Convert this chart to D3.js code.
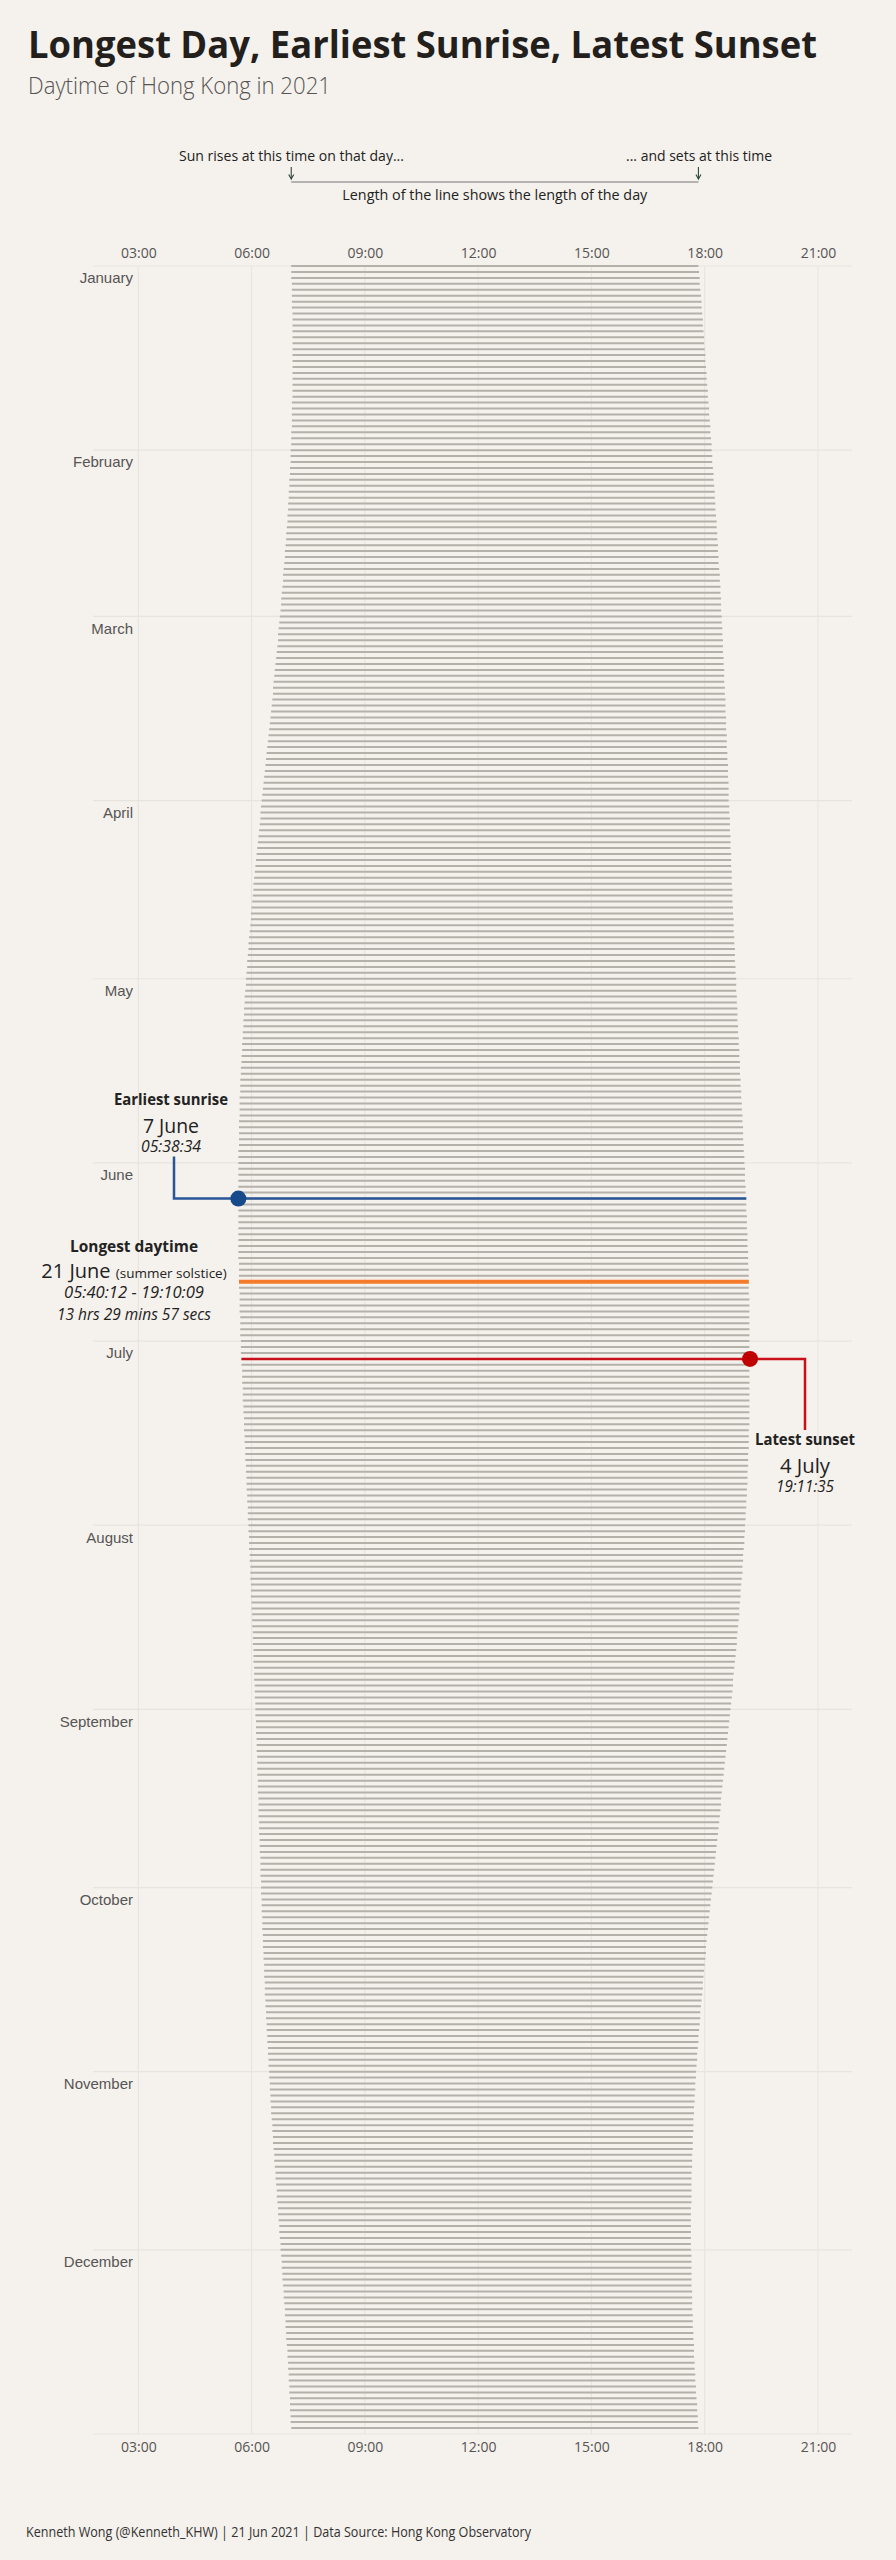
<!DOCTYPE html>
<html>
<head>
<meta charset="utf-8">
<script src="https://cdn.jsdelivr.net/npm/d3@7"></script>
<style>
  body { margin: 0; background: #f5f1ec; }
  svg { display: block; }
</style>
</head>
<body>
<svg id="drawing_region"></svg>
<script>
// Hong Kong 2021, sunrise / sunset in minutes after midnight, one array per month
const monthNames = ["January","February","March","April","May","June","July","August","September","October","November","December"];
const hourTicks = [3, 6, 9, 12, 15, 18, 21];
const hourLabels = ["03:00","06:00","09:00","12:00","15:00","18:00","21:00"];

const sunriseMin = [
  [423,423,423,424,424,424,424,424,425,425,425,425,425,425,425,425,425,425,425,425,425,425,425,424,424,424,424,424,423,423,423],
  [422,422,422,421,421,420,420,419,419,418,418,417,417,416,415,415,414,413,413,412,411,410,410,409,408,407,407,406],
  [405,404,403,402,402,401,400,399,398,397,396,395,394,394,393,392,391,390,389,388,387,386,385,384,383,382,381,380,379,378,377],
  [376,375,374,374,373,372,371,370,369,368,367,366,365,364,363,363,362,361,360,359,359,358,357,356,355,355,354,353,353,352],
  [351,351,350,349,349,348,348,347,347,346,346,345,345,344,344,343,343,342,342,342,341,341,341,341,340,340,340,340,340,339,339],
  [339,339,339,339,339,339,339,339,339,339,339,339,339,339,339,339,339,340,340,340,340,340,341,341,341,341,342,342,342,342],
  [343,343,343,344,344,345,345,345,346,346,346,347,347,348,348,348,349,349,350,350,350,351,351,352,352,352,353,353,354,354,354],
  [355,355,356,356,356,357,357,358,358,358,359,359,359,360,360,361,361,361,362,362,362,363,363,363,364,364,364,365,365,365,366],
  [366,366,367,367,367,368,368,368,369,369,369,369,370,370,370,371,371,371,371,372,372,372,373,373,373,374,374,374,374,375],
  [375,375,376,376,376,377,377,377,378,378,378,379,379,380,380,380,381,381,381,382,382,383,383,384,384,385,385,386,386,387,387],
  [388,388,389,389,390,390,391,391,392,393,393,394,394,395,396,396,397,398,398,399,400,400,401,402,402,403,404,404,405,406],
  [406,407,408,408,409,409,410,411,411,412,413,413,414,414,415,415,416,417,417,418,418,419,419,420,420,421,421,421,422,422,423]
];

const sunsetMin = [
  [1070,1071,1072,1072,1073,1074,1075,1075,1076,1077,1077,1078,1079,1079,1080,1081,1081,1082,1083,1083,1084,1085,1085,1086,1087,1087,1088,1089,1089,1090,1091],
  [1091,1092,1092,1093,1094,1094,1095,1096,1096,1097,1097,1098,1099,1099,1100,1100,1101,1101,1102,1102,1103,1104,1104,1105,1105,1106,1106,1106],
  [1107,1107,1108,1108,1109,1109,1109,1110,1110,1111,1111,1111,1112,1112,1113,1113,1113,1114,1114,1114,1115,1115,1115,1116,1116,1117,1117,1117,1118,1118,1118],
  [1118,1119,1119,1120,1120,1120,1121,1121,1121,1122,1122,1122,1123,1123,1123,1124,1124,1124,1125,1125,1126,1126,1126,1127,1127,1128,1128,1128,1129,1129],
  [1130,1130,1130,1131,1131,1132,1132,1132,1133,1133,1134,1134,1135,1135,1136,1136,1136,1137,1137,1138,1138,1139,1139,1140,1140,1141,1141,1141,1142,1142,1143],
  [1143,1144,1144,1144,1145,1145,1146,1146,1146,1147,1147,1147,1148,1148,1148,1149,1149,1149,1150,1150,1150,1150,1150,1151,1151,1151,1151,1151,1151,1151],
  [1151,1151,1152,1152,1152,1151,1151,1151,1151,1151,1151,1151,1151,1151,1151,1150,1150,1150,1150,1149,1149,1149,1148,1148,1148,1147,1147,1146,1146,1145,1145],
  [1144,1144,1143,1143,1142,1141,1141,1140,1140,1139,1138,1137,1137,1136,1135,1135,1134,1133,1132,1131,1131,1130,1129,1128,1127,1126,1125,1125,1124,1123,1122],
  [1121,1120,1119,1118,1117,1116,1115,1114,1113,1112,1111,1110,1109,1108,1107,1106,1106,1105,1104,1103,1102,1101,1100,1099,1098,1097,1096,1095,1094,1093],
  [1092,1091,1090,1089,1088,1087,1086,1085,1084,1083,1082,1082,1081,1080,1079,1078,1077,1077,1076,1075,1074,1073,1073,1072,1071,1070,1070,1069,1068,1068,1067],
  [1066,1066,1065,1065,1064,1064,1063,1063,1062,1062,1062,1061,1061,1061,1060,1060,1060,1059,1059,1059,1059,1059,1059,1058,1058,1058,1058,1058,1058,1058],
  [1058,1059,1059,1059,1059,1059,1059,1060,1060,1060,1060,1061,1061,1061,1062,1062,1063,1063,1063,1064,1064,1065,1065,1066,1066,1067,1068,1068,1069,1069,1070]
];

// highlighted days: earliest sunrise, longest day, latest sunset
const highlightDays = [[5, 7], [5, 21], [6, 4]];   // [month index, day]

const SANS = "'Open Sans', 'Noto Sans', sans-serif";

class DaytimeChart {

    constructor( config, data ) {
        this.config = config;
        this.data = data;
        this.init();
    }

    init() {
        let self = this;

        self.svg = d3.select( self.config.parent )
            .attr('width', self.config.width)
            .attr('height', self.config.height)
            .style('background', '#f5f1ec');

        self.xscale = d3.scaleLinear()
            .domain( [3, 21] )
            .range( [138.3, 818] );

        self.yscale = d3.scaleTime()
            .domain( [new Date(2021, 0, 1), new Date(2022, 0, 1)] )
            .range( [266, 2434] );

        self.grid = self.svg.append('g');
        self.chart = self.svg.append('g');
        self.notes = self.svg.append('g');
    }

    text( g, str, x, y, opt ) {
        const t = g.append('text')
            .attr('x', x).attr('y', y)
            .attr('font-family', opt.family || SANS)
            .attr('font-size', opt.size || 15)
            .attr('font-weight', opt.weight || 400)
            .attr('font-style', opt.style || 'normal')
            .attr('fill', opt.color || '#222')
            .attr('text-anchor', opt.anchor || 'start')
            .text(str);
        if (opt.len) t.attr('textLength', opt.len).attr('lengthAdjust', 'spacingAndGlyphs');
        return t;
    }

    render() {
        let self = this;
        const x = self.xscale, y = self.yscale;
        const [y0, y1] = y.range();

        // grid
        self.grid.selectAll('.vgrid')
            .data(hourTicks)
            .join('line')
            .attr('x1', d => x(d)).attr('x2', d => x(d))
            .attr('y1', y0).attr('y2', y1)
            .attr('stroke', '#e7e3de').attr('stroke-width', 1);

        const monthStarts = d3.timeMonth.range(new Date(2021, 0, 1), new Date(2022, 0, 2));
        self.grid.selectAll('.hgrid')
            .data(monthStarts)
            .join('line')
            .attr('x1', 93).attr('x2', 852)
            .attr('y1', d => y(d)).attr('y2', d => y(d))
            .attr('stroke', '#e7e3de').attr('stroke-width', 1.2);

        // axes
        const fmt = (d, i) => hourLabels[hourTicks.indexOf(d)];
        const top = self.grid.append('g')
            .attr('transform', `translate(0, ${y0})`)
            .call( d3.axisTop(x).tickValues(hourTicks).tickFormat(fmt).tickSize(0).tickPadding(8) );
        const bottom = self.grid.append('g')
            .attr('transform', `translate(0, ${y1})`)
            .call( d3.axisBottom(x).tickValues(hourTicks).tickFormat(fmt).tickSize(0).tickPadding(8) );
        const left = self.grid.append('g')
            .attr('transform', 'translate(141, 0)')
            .call( d3.axisLeft(y).tickValues(monthStarts.slice(0, 12)).tickFormat((d, i) => monthNames[i]).tickSize(0).tickPadding(8) );

        [top, bottom].forEach(a => {
            a.select('.domain').remove();
            a.selectAll('text').attr('font-family', SANS).attr('font-size', 14).attr('fill', '#555');
        });
        left.select('.domain').remove();
        left.selectAll('text')
            .attr('font-family', "'Liberation Sans', Arial, sans-serif")
            .attr('font-size', 15).attr('fill', '#555')
            .attr('dy', '1.12em');

        // one line per day
        self.chart.selectAll('.day')
            .data(self.data)
            .join('line')
            .attr('x1', d => x(d.rise)).attr('x2', d => x(d.set))
            .attr('y1', d => y(d.date)).attr('y2', d => y(d.date))
            .attr('stroke', '#b4b0aa').attr('stroke-width', 2);

        const find = ([m, day]) => self.data.find(d => d.date.getMonth() === m && d.date.getDate() === day);
        const [early, longest, late] = highlightDays.map(find);

        // longest day
        self.chart.append('line')
            .attr('x1', x(longest.rise)).attr('x2', x(longest.set))
            .attr('y1', y(longest.date)).attr('y2', y(longest.date))
            .attr('stroke', '#f47a2c').attr('stroke-width', 4);

        // earliest sunrise
        const ye = y(early.date);
        self.chart.append('path')
            .attr('d', `M174,${ye - 42}V${ye}H${x(early.rise)}`)
            .attr('fill', 'none').attr('stroke', '#2a5699').attr('stroke-width', 2.5);
        self.chart.append('line')
            .attr('x1', x(early.rise)).attr('x2', x(early.set))
            .attr('y1', ye).attr('y2', ye)
            .attr('stroke', '#2a5699').attr('stroke-width', 2.5);
        self.chart.append('circle')
            .attr('cx', x(early.rise)).attr('cy', ye).attr('r', 8)
            .attr('fill', '#174a8b');

        // latest sunset
        const yl = y(late.date);
        self.chart.append('line')
            .attr('x1', x(late.rise)).attr('x2', x(late.set))
            .attr('y1', yl).attr('y2', yl)
            .attr('stroke', '#c8101a').attr('stroke-width', 2.5);
        self.chart.append('path')
            .attr('d', `M${x(late.set)},${yl}H805V${yl + 71}`)
            .attr('fill', 'none').attr('stroke', '#c8101a').attr('stroke-width', 2.5);
        self.chart.append('circle')
            .attr('cx', x(late.set)).attr('cy', yl).attr('r', 8)
            .attr('fill', '#c00000');

        // annotations
        const n = self.notes;
        self.text(n, 'Earliest sunrise', 171, ye - 94, {size: 16, weight: 700, anchor: 'middle', len: 114});
        self.text(n, '7 June', 171, ye - 66, {size: 20, anchor: 'middle', len: 56});
        self.text(n, '05:38:34', 171, ye - 47, {size: 16, style: 'italic', anchor: 'middle', len: 60});

        const yg = y(longest.date);
        self.text(n, 'Longest daytime', 134, yg - 30, {size: 16, weight: 700, anchor: 'middle', len: 128});
        const t = self.text(n, '', 134, yg - 4, {size: 20, anchor: 'middle'});
        t.append('tspan').text('21 June ');
        t.append('tspan').attr('font-size', 13.5).text('(summer solstice)');
        self.text(n, '05:40:12 - 19:10:09', 134, yg + 16, {size: 16, style: 'italic', anchor: 'middle', len: 140});
        self.text(n, '13 hrs 29 mins 57 secs', 134, yg + 38, {size: 16, style: 'italic', anchor: 'middle', len: 154});

        self.text(n, 'Latest sunset', 805, yl + 86, {size: 16, weight: 700, anchor: 'middle', len: 100});
        self.text(n, '4 July', 805, yl + 114, {size: 20, anchor: 'middle', len: 50});
        self.text(n, '19:11:35', 805, yl + 133, {size: 16, style: 'italic', anchor: 'middle', len: 58});

        // header
        self.text(n, 'Longest Day, Earliest Sunrise, Latest Sunset', 28, 58, {size: 38, weight: 700, color: '#231f1c', len: 789});
        self.text(n, 'Daytime of Hong Kong in 2021', 28, 94, {size: 23, weight: 300, color: '#555', len: 303});

        const first = self.data[0];
        const xr = x(first.rise), xs = x(first.set);
        self.text(n, 'Sun rises at this time on that day...', 179, 161, {size: 14, len: 225});
        self.text(n, '... and sets at this time', 772, 161, {size: 14, anchor: 'end', len: 146});
        self.text(n, 'Length of the line shows the length of the day', (xr + xs) / 2, 200, {size: 14, anchor: 'middle', len: 305});
        n.append('line')
            .attr('x1', xr).attr('x2', xs).attr('y1', 182).attr('y2', 182)
            .attr('stroke', '#9c9c9c').attr('stroke-width', 1.3);
        [xr, xs].forEach(xa => {
            n.append('path')
                .attr('d', `M${xa},167V178`)
                .attr('stroke', '#2f4a3c').attr('stroke-width', 1.1).attr('fill', 'none');
            n.append('path')
                .attr('d', `M${xa - 2.5},174.5L${xa},179L${xa + 2.5},174.5`)
                .attr('stroke', '#2f4a3c').attr('stroke-width', 1.1).attr('fill', 'none');
        });

        // footer
        self.text(n, 'Kenneth Wong (@Kenneth_KHW) | 21 Jun 2021 | Data Source: Hong Kong Observatory', 26, 2537, {size: 14, color: '#333', len: 505});
    }
}

const data = [];
sunriseMin.forEach((month, m) => {
    month.forEach((rise, i) => {
        data.push({ date: new Date(2021, m, i + 1), rise: rise / 60, set: sunsetMin[m][i] / 60 });
    });
});

const config = { parent: '#drawing_region', width: 896, height: 2560 };
const chart = new DaytimeChart( config, data );
chart.render();
</script>
</body>
</html>
